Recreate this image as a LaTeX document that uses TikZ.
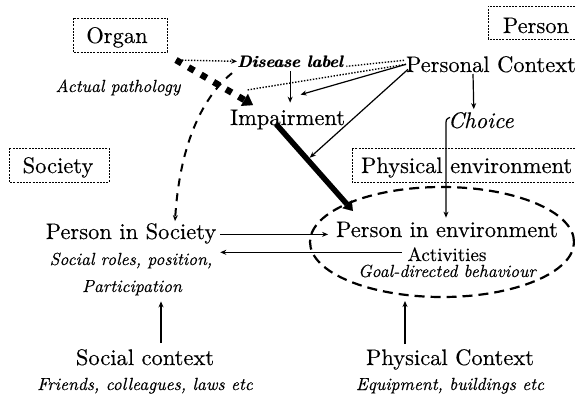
\documentclass[tikz,border=0pt]{standalone}
\usepackage{fontspec}
\setmainfont{lmroman10-regular.otf}[
  ItalicFont=lmroman10-italic.otf,
  BoldFont=lmroman10-bold.otf,
  BoldItalicFont=lmroman10-bolditalic.otf,
  UprightFeatures={FakeBold=0.3},
  ItalicFeatures={FakeBold=0.3}]
\newfontfamily\heavyitalic{lmroman10-bolditalic.otf}
% set a word twice with a small offset to darken it
\newcommand\stamptwice[1]{\rlap{#1}\kern0.6pt#1}
\usetikzlibrary{arrows.meta,calc,shapes.geometric}
\begin{document}
\begin{tikzpicture}[x=1pt,y=-1pt,
  every node/.style={inner sep=0pt,outer sep=0pt},
  big/.style={font=\fontsize{22.5}{25}\selectfont},
  note/.style={font=\fontsize{17.5}{20}\selectfont\itshape},
  heavynote/.style={font=\heavyitalic\fontsize{16.5}{18}\selectfont},
  framelbl/.style={font=\fontsize{22.5}{25}\selectfont},
  frame/.style={line width=0.8pt,dash pattern=on 2pt off 1.2pt},
  tip/.style={-{Stealth[length=6pt,width=5pt]}},
  link/.style={tip,line width=1.2pt},
  dots/.style={line width=1.4pt,dash pattern=on 1.4pt off 1.6pt},
  fatdots/.style={line width=6.5pt,dash pattern=on 6.5pt off 8pt,
    -{Triangle[length=10pt,width=14pt,line width=0.1pt]}},
  fat/.style={line width=5.5pt,-{Triangle[length=9pt,width=12pt,line width=0.1pt]}},
  longdash/.style={line width=2pt,dash pattern=on 8pt off 7pt},
]
\useasboundingbox (0,0) rectangle (575,397);

% level frames
\draw[frame] (73,18) rectangle (167,52);
\node[framelbl,anchor=base] (organ) at (117,43) {Organ};
\draw[frame] (575,6) -- (488,6) -- (488,39) -- (575,39);
\node[framelbl,anchor=base] (person) at (536,33) {Person};
\draw[frame] (9,148) rectangle (109,182);
\node[framelbl,anchor=base] (society) at (58,173) {Society};
\draw[frame] (575,148) -- (352,148) -- (352,182) -- (575,182);
\node[framelbl,anchor=base west] (physenv) at (361,173) {Physical environment};

% labels
\node[big,anchor=base west] (pc) at (406,72) {Personal Context};
\node[heavynote,anchor=base west] (dis) at (237,67) {\stamptwice{Disease label}};
\node[note,anchor=base] (path) at (118,92) {Actual pathology};
\node[big,anchor=base west] (imp) at (230,125) {Impairment};
\node[anchor=base west,font=\fontsize{22.5}{25}\selectfont\itshape] (choice) at (448,128) {Choice};
\node[big,anchor=base] (psoc) at (131,239) {Person in Society};
\node[note,anchor=base] (roles) at (131,265) {Social roles, position,};
\node[note,anchor=base] (part) at (132,292) {Participation};
\node[big,anchor=base] (pie) at (447,237) {Person in environment};
\node[font=\fontsize{19}{21}\selectfont,anchor=base] (act) at (447,261) {Activities};
\node[note,anchor=base] (goal) at (447,277) {Goal-directed behaviour};
\node[big,anchor=base] (sctx) at (145,365) {Social context};
\node[note,anchor=base] (friends) at (145,390) {Friends, colleagues, laws etc};
\node[big,anchor=base] (pctx) at (450,365) {Physical Context};
\node[note,anchor=base] (equip) at (450,390) {Equipment, buildings etc};

% environment ellipse
\node[ellipse,draw,line width=2.2pt,dash pattern=on 10pt off 6pt,
  minimum width=264,minimum height=110] (env) at (442,242) {};

% named free ends
\coordinate (lesion) at (176,60);
\coordinate (impmark) at (253,105);
\coordinate (nearimp) at (247,90);
\coordinate (impfoot) at (276,124);
\coordinate (piehead) at (353,211);
\path (impfoot) -- coordinate[pos=0.41] (thickmid) (piehead);

% organ level
\draw[dots,tip] (lesion) -- (dis.west);
\draw[fatdots] (lesion) -- (impmark);
\draw[longdash,tip] ($(dis.south west)+(-5,6)$)
  .. controls (205,95) and (180,140) .. ($(psoc.north)+(44,-2)$);

% from personal context
\draw[dots] (pc.west) -- (nearimp);
\draw[dots] ($(pc.west)+(-2,-4)$) -- ($(dis.east)+(3,5)$);
\draw[link] (pc.west) -- ($(imp.north)+(13,-15)$);
\draw[link,shorten >=3pt] ($(pc.west)+(2,5)$) -- (thickmid);
\draw[link,shorten <=4pt,shorten >=7pt] (dis.south) -- (dis.south |- imp.north);
\draw[link] ($(pc.base west)+(67,2)$) -- ($(choice.north)+(-7,-3)$);
\draw[link] ($(choice.west)+(2,-3)$) .. controls ($(choice.west)+(-2,-1)$) .. ($(choice.west)+(-2,5)$)
  -- ($(pie.north)+(-1,-4)$);

% impairment to person in environment
\draw[fat] (impfoot) -- (piehead);

% society <-> environment
\draw[link,shorten <=4pt,shorten >=8pt] ($(psoc.east)+(0,1)$) -- ($(psoc.east -| pie.west)+(0,1)$);
\draw[link] ($(act.west)+(-6,-2)$) -- ($(act.west -| psoc.east)+(4,-2)$);

% contexts
\draw[link] ($(sctx.north)+(16,-6)$) -- ($(sctx.north |- part.south)+(16,6)$);
\draw[link] ($(pctx.north)+(-45,-5)$) -- ($(env.south)+(-37,4)$);
\end{tikzpicture}
\end{document}
